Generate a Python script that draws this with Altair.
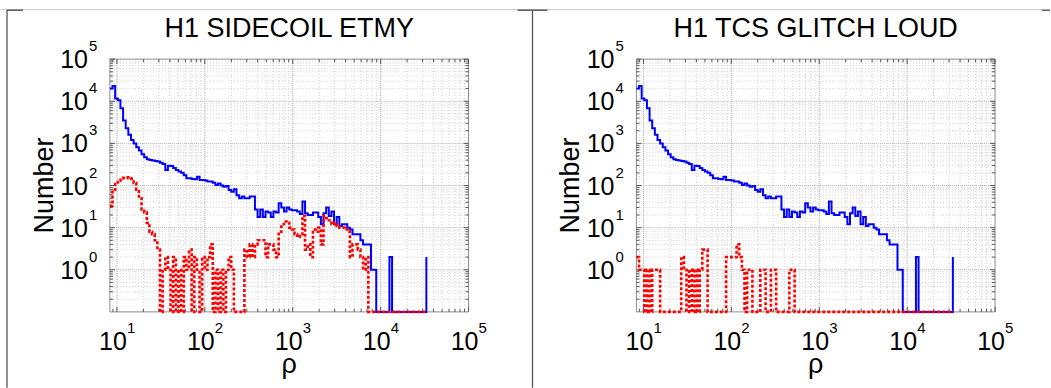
import altair as alt
import pandas as pd

W, H = 359, 253
FONT = "Liberation Sans"

# histogram bins: equal width in log10(rho)
LOG_START = 0.92
LOG_STEP = 0.03

# all glitches (blue), one count per bin
blue_counts = [20000, 23000, 11700, 10500, 6800, 3500, 2300, 1600, 1200, 1000,
               810, 675, 550, 470, 420, 405, 390, 380, 370, 345,
               325, 235, 295, 290, 260, 235, 215, 200, 175, 148,
               148, 142, 140, 162, 135, 135, 131, 124, 124, 117,
               103, 112, 100, 94, 97, 78, 71, 81, 59, 50,
               55, 50, 50, 55, 55, 27, 18, 27, 18, 24,
               23, 18, 24, 23, 38, 30, 24, 30, 27, 26,
               26, 24, 21, 42, 22, 20, 20, 23, 23, 18,
               12, 22, 30, 19, 24, 12, 18, 11, 12, 12,
               10, 9, 7, 7, 7, 5, 4, 4, 4, 1,
               1, 0, 0, 0, 0, 0, 2, 0, 0, 0,
               0, 0, 0, 0, 0, 0, 0, 0, 0, 0,
               2]

# glitches vetoed by H1 SIDECOIL ETMY (red)
red_etmy = [33, 80, 109, 130, 148, 152, 156, 150, 145, 115,
            80, 50, 27, 23, 13, 8, 7, 5, 3, 0,
            1, 2, 1, 0, 2, 0, 1, 0, 2, 1,
            3, 0, 2, 1, 0, 2, 1, 2, 4, 0,
            1, 0, 1, 0, 1, 2, 1, 0, 0, 0,
            0, 3, 2, 4, 2, 4, 5, 5, 5, 2,
            4, 4, 3, 2, 8, 12, 14, 13, 10, 9,
            7, 6, 7, 19, 3, 4, 2, 9, 8, 10,
            4, 19, 17, 15, 12, 13, 11, 10, 10, 9,
            8, 2, 4, 4, 3, 2, 1, 2, 0, 0,
            0, 0, 0, 0, 0, 0, 0, 0, 0, 0,
            0, 0, 0, 0, 0, 0, 0, 0, 0, 0,
            0]

# glitches vetoed by H1 TCS GLITCH LOUD (red)
red_tcs = [2, 1, 1, 0, 1, 0, 1, 1, 1, 0,
           0, 0, 0, 0, 0, 0, 0, 2, 1, 0,
           1, 0, 1, 0, 1, 3, 3, 0, 0, 0,
           0, 0, 0, 0, 2, 2, 2, 2, 4, 2,
           1, 0, 1, 1, 0, 0, 0, 1, 1, 0,
           0, 1, 1, 0, 0, 0, 0, 0, 1, 1,
           0, 0, 0, 0, 0, 0, 0, 0, 0, 0,
           0, 0, 0, 0, 0, 0, 0, 0, 0, 0,
           0, 0, 0, 0, 0, 0, 0, 0, 0, 0,
           0, 0, 0, 0, 0, 0, 0, 0, 0, 0,
           0, 0, 0, 0, 0, 0, 0, 0, 0, 0,
           0, 0, 0, 0, 0, 0, 0, 0, 0, 0,
           0]

titles = ["H1 SIDECOIL ETMY", "H1 TCS GLITCH LOUD"]

x_min = 10 ** LOG_START
x_max = 1e5
y_min, y_max = 0.1, 1e5

major_x = [10, 100, 1000, 10000, 100000]
major_x_exp = ["1", "2", "3", "4", "5"]
major_y = [1, 10, 100, 1000, 10000, 100000]
major_y_exp = ["0", "1", "2", "3", "4", "5"]
minor_mult = [2, 3, 4, 5, 6, 7, 8, 9]
x_decades = [1, 10, 100, 1000, 10000]
y_decades = [0.1, 1, 10, 100, 1000, 10000]

minor_x = [m * d for d in x_decades for m in minor_mult if x_min <= m * d <= x_max]
minor_y = [m * d for d in y_decades for m in minor_mult]

xs = alt.Scale(type="log", domain=[x_min, x_max], nice=False)
ys = alt.Scale(type="log", domain=[y_min, y_max], nice=False)

one = pd.DataFrame({"d": [0]})


def vrules(vals, color, dash, width=1):
    return alt.Chart(pd.DataFrame({"v": vals})).mark_rule(
        color=color, strokeDash=dash, strokeWidth=width
    ).encode(x=alt.X("v:Q", scale=xs, axis=None))


def hrules(vals, color, dash, width=1):
    return alt.Chart(pd.DataFrame({"v": vals})).mark_rule(
        color=color, strokeDash=dash, strokeWidth=width
    ).encode(y=alt.Y("v:Q", scale=ys, axis=None))


def xticks(vals, length, color="#555555"):
    d = pd.DataFrame({"v": vals})
    bot = alt.Chart(d).mark_rule(color=color, strokeWidth=1).encode(
        x=alt.X("v:Q", scale=xs, axis=None), y=alt.value(H), y2=alt.value(H - length))
    top = alt.Chart(d).mark_rule(color=color, strokeWidth=1).encode(
        x=alt.X("v:Q", scale=xs, axis=None), y=alt.value(0), y2=alt.value(length))
    return [bot, top]


def yticks(vals, length, color="#555555"):
    d = pd.DataFrame({"v": vals})
    left = alt.Chart(d).mark_rule(color=color, strokeWidth=1).encode(
        y=alt.Y("v:Q", scale=ys, axis=None), x=alt.value(0), x2=alt.value(length))
    right = alt.Chart(d).mark_rule(color=color, strokeWidth=1).encode(
        y=alt.Y("v:Q", scale=ys, axis=None), x=alt.value(W), x2=alt.value(W - length))
    return [left, right]


def seg(x1, x2, y1, y2, color, width):
    return alt.Chart(one).mark_rule(color=color, strokeWidth=width).encode(
        x=alt.value(x1), x2=alt.value(x2), y=alt.value(y1), y2=alt.value(y2))


def panel(title, red, decorate):
    n = len(blue_counts)
    rho = [10 ** (LOG_START + LOG_STEP * k) for k in range(n)]
    df = pd.DataFrame({"rho": rho, "blue": blue_counts, "red": red})

    layers = []
    # grid
    layers.append(vrules(minor_x, "#d0d0d0", [1, 2]))
    layers.append(hrules(minor_y, "#d0d0d0", [1, 2]))
    layers.append(vrules(major_x[:-1], "#b0b0b0", [1, 1]))
    layers.append(hrules(major_y[:-1], "#b0b0b0", [1, 1]))
    # box
    layers.append(alt.Chart(one).mark_rect(fillOpacity=0, stroke="#8c8c8c", strokeWidth=1).encode(
        x=alt.value(0), x2=alt.value(W), y=alt.value(0), y2=alt.value(H)))
    # ticks
    layers += xticks(minor_x, 3)
    layers += xticks(major_x, 5)
    layers += yticks(minor_y, 3)
    layers += yticks(major_y, 5)

    base = alt.Chart(df).transform_calculate(
        nb="max(datum.blue, 0.1)", nr="max(datum.red, 0.1)")
    layers.append(base.mark_line(interpolate="step-after", color="#0000ff", strokeWidth=2).encode(
        x=alt.X("rho:Q", scale=xs, axis=None), y=alt.Y("nb:Q", scale=ys, axis=None)))
    layers.append(base.mark_line(interpolate="step-after", color="#ff0000", strokeWidth=2.6,
                                 strokeDash=[3, 2]).encode(
        x=alt.X("rho:Q", scale=xs, axis=None), y=alt.Y("nr:Q", scale=ys, axis=None)))

    # tick labels
    xl = pd.DataFrame({"v": major_x, "e": major_x_exp})
    layers.append(alt.Chart(xl).mark_text(text="10", font=FONT, fontSize=25, align="center",
                                          baseline="alphabetic", dx=-4, color="black").encode(
        x=alt.X("v:Q", scale=xs, axis=None), y=alt.value(H + 38)))
    layers.append(alt.Chart(xl).mark_text(font=FONT, fontSize=15, align="left",
                                          baseline="alphabetic", dx=10, color="black").encode(
        x=alt.X("v:Q", scale=xs, axis=None), y=alt.value(H + 21), text="e:N"))
    yl = pd.DataFrame({"v": major_y, "e": major_y_exp})
    layers.append(alt.Chart(yl).mark_text(text="10", font=FONT, fontSize=25, align="right",
                                          baseline="alphabetic", dy=9, color="black").encode(
        y=alt.Y("v:Q", scale=ys, axis=None), x=alt.value(-22)))
    layers.append(alt.Chart(yl).mark_text(font=FONT, fontSize=15, align="left",
                                          baseline="alphabetic", dy=-8, color="black").encode(
        y=alt.Y("v:Q", scale=ys, axis=None), x=alt.value(-21), text="e:N"))

    # titles
    layers.append(alt.Chart(one).mark_text(text=title, font=FONT, fontSize=27, align="center",
                                           baseline="alphabetic", color="black").encode(
        x=alt.value(W / 2), y=alt.value(-22)))
    layers.append(alt.Chart(one).mark_text(text="ρ", font=FONT, fontSize=27, align="center",
                                           baseline="alphabetic", color="black").encode(
        x=alt.value(W / 2), y=alt.value(H + 61)))
    layers.append(alt.Chart(one).mark_text(text="Number", font=FONT, fontSize=27, align="center",
                                           baseline="alphabetic", angle=270, color="black").encode(
        x=alt.value(-57), y=alt.value(H / 2)))

    if decorate:
        layers.append(seg(-109.5, 933, -49.5, -49.5, "#c8c8c8", 1))
        layers.append(seg(-103, -87, -49, -49, "#444444", 1.3))
        layers.append(seg(-103, -103, -49, 329, "#555555", 1.3))
        layers.append(seg(408, 438, -49, -49, "#444444", 1.3))
        layers.append(seg(423, 423, -49, 329, "#555555", 1.3))
        layers.append(seg(933, 941, -49, -49, "#444444", 1.3))

    return alt.layer(*layers).properties(width=W, height=H)


chart = alt.hconcat(
    panel(titles[0], red_etmy, True),
    panel(titles[1], red_tcs, False),
    spacing=168,
    bounds="flush",
).properties(
    padding={"left": 0, "top": 9, "right": 0, "bottom": 0}
).configure_view(strokeWidth=0)

chart.save("out.html", embed_options={"renderer": "svg", "actions": False})
